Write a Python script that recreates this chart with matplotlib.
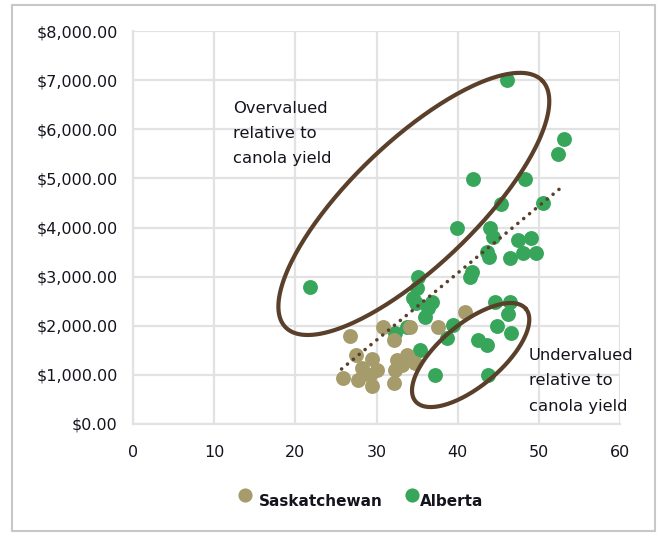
import numpy as np
import matplotlib
matplotlib.use("Agg")
import matplotlib.pyplot as plt
from matplotlib.patches import Rectangle
from matplotlib.lines import Line2D
from matplotlib.ticker import FuncFormatter

# ---------------- data ----------------
sask_x = [25.9, 26.7, 27.5, 27.7, 28.2, 29.2, 29.4, 29.4, 30.0, 30.8, 32.1, 32.2,
          32.3, 32.5, 33.2, 33.7, 34.1, 34.7, 37.6, 40.9]
sask_y = [930, 1790, 1400, 900, 1130, 1000, 1320, 770, 1100, 1980, 840, 1720,
          1100, 1300, 1200, 1400, 1980, 1240, 1980, 2280]

alberta_x = [46.1, 53.1, 52.4, 41.9, 48.3, 45.4, 50.5, 39.9, 44.0, 44.4, 47.4, 49.0,
             48.0, 46.5, 49.6, 43.6, 43.8, 41.8, 41.5, 21.8, 35.1, 35.0, 34.5, 34.9,
             36.8, 36.3, 36.0, 32.3, 33.7, 44.6, 46.4, 46.2, 44.8, 46.6, 42.5, 43.6,
             39.4, 38.7, 35.3, 37.2, 43.7]
alberta_y = [7000, 5810, 5490, 4990, 4990, 4480, 4490, 3980, 3980, 3810, 3740, 3790,
             3490, 3380, 3490, 3500, 3400, 3100, 3000, 2790, 3000, 2760, 2560, 2460,
             2490, 2360, 2180, 1850, 1980, 2490, 2490, 2230, 2000, 1850, 1710, 1600,
             2010, 1750, 1510, 1000, 1000]

# linear trendline (slope per yield unit, intercept)
trend_slope = 136.5
trend_intercept = -2388
trend_x_range = [25.7, 52.8]

x_ticks = [0, 10, 20, 30, 40, 50, 60]
y_ticks = [0, 1000, 2000, 3000, 4000, 5000, 6000, 7000, 8000]
series_names = ["Saskatchewan", "Alberta"]
annot_over = "Overvalued\nrelative to\ncanola yield"
annot_under = "Undervalued\nrelative to\ncanola yield"

# ---------------- style ----------------
W, H = 659, 536
FONT = ["DejaVu Sans"]
plt.rcParams["font.family"] = FONT
SASK_C = "#A69C6B"
ALB_C = "#37A65B"
BROWN = "#5A3F2A"
GRID_C = "#E2E2E2"
TXT_C = "#14141E"

fig = plt.figure(figsize=(W / 100, H / 100), dpi=100)
ax_l, ax_r, ax_t, ax_b = 133, 620, 31, 424
ax = fig.add_axes([ax_l / W, 1 - ax_b / H, (ax_r - ax_l) / W, (ax_b - ax_t) / H])

ax.set_xlim(x_ticks[0], x_ticks[-1])
ax.set_ylim(y_ticks[0], y_ticks[-1])
ax.set_xticks(x_ticks)
ax.set_yticks(y_ticks)
ax.yaxis.set_major_formatter(FuncFormatter(lambda v, p: f"${v:,.2f}"))
ax.grid(True, color=GRID_C, lw=1.6, zorder=0)
ax.set_axisbelow(True)
for side, s in ax.spines.items():
    if side in ("left", "bottom"):
        s.set_color(GRID_C)
        s.set_linewidth(1.6)
    else:
        s.set_visible(False)
ax.tick_params(length=0, labelsize=11.5, colors=TXT_C)
ax.tick_params(axis="y", pad=11)
ax.tick_params(axis="x", pad=15)

ms = 115
ax.scatter(alberta_x, alberta_y, s=ms, color=ALB_C, lw=0, zorder=3)
ax.scatter(sask_x, sask_y, s=ms, color=SASK_C, lw=0, zorder=4)

tx = np.linspace(trend_x_range[0], trend_x_range[1], 50)
ax.plot(tx, trend_slope * tx + trend_intercept, color=BROWN, lw=2.6,
        ls=(0, (0.01, 2.1)), dash_capstyle="round", zorder=5)

# ellipses drawn with pixel geometry (center in data units)
pxx = (ax_r - ax_l) / (x_ticks[-1] - x_ticks[0])
pxy = (ax_b - ax_t) / (y_ticks[-1] - y_ticks[0])

def ellipse(cx, cy, a, b, ang):
    t = np.linspace(0, 2 * np.pi, 300)
    th = np.deg2rad(ang)
    dx = a * np.cos(t) * np.cos(th) - b * np.sin(t) * np.sin(th)
    dy = a * np.cos(t) * np.sin(th) + b * np.sin(t) * np.cos(th)
    ax.plot(cx + dx / pxx, cy + dy / pxy, color=BROWN, lw=3.0, zorder=6,
            solid_capstyle="round")

ellipse(34.6, 4480, 178, 62, 43.8)
ellipse(41.6, 1404, 72, 31, 40)

# annotations
fig.text(233 / W, 1 - 101 / H, annot_over, ha="left", va="top",
         fontsize=11.8, color=TXT_C, linespacing=1.82)
fig.text(529 / W, 1 - 348 / H, annot_under, ha="left", va="top",
         fontsize=11.8, color=TXT_C, linespacing=1.86)

# legend (manual placement)
for name, col, mx, tx0 in [(series_names[0], SASK_C, 245, 259),
                           (series_names[1], ALB_C, 412, 420)]:
    fig.add_artist(Line2D([mx / W], [1 - 495 / H], marker="o", ms=10.2, color=col,
                          mew=0, ls="none", transform=fig.transFigure))
    fig.text(tx0 / W, 1 - 501 / H, name, ha="left", va="center", fontsize=11,
             fontweight="bold", color=TXT_C)

# figure border
fig.patches.append(Rectangle((12 / W, 1 - 531 / H), (655 - 12) / W, (531 - 5) / H,
                             transform=fig.transFigure, fill=False, ec="#C8C8C8", lw=1.5))

fig.savefig("out.png", dpi=100)
